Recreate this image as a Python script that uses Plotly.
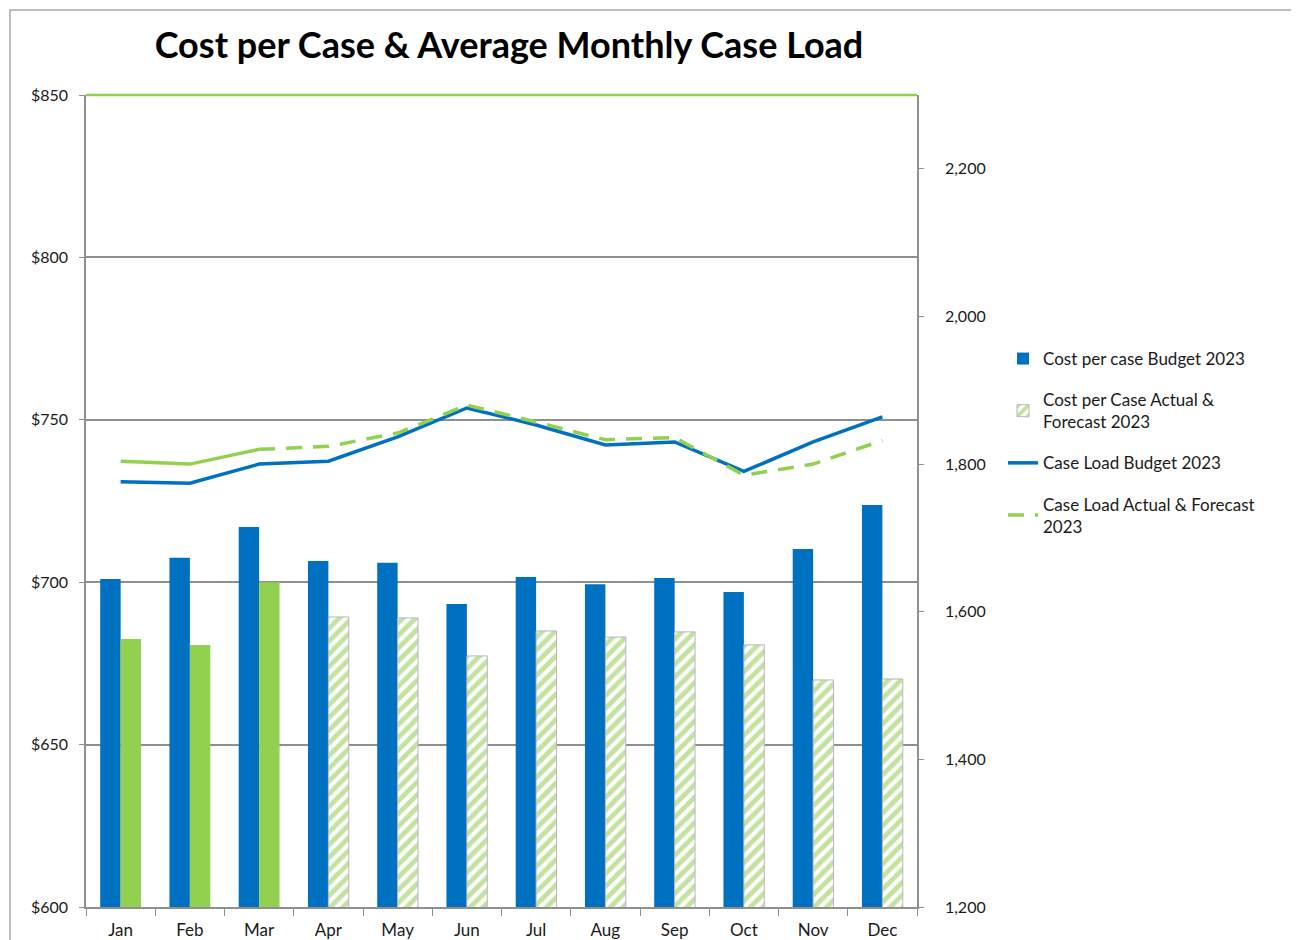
import plotly.graph_objects as go

months = ["Jan", "Feb", "Mar", "Apr", "May", "Jun", "Jul", "Aug", "Sep", "Oct", "Nov", "Dec"]
cost_budget = [701, 707.5, 717, 706.5, 706, 693.3, 701.6, 699.4, 701.3, 697, 710.2, 723.8]
cost_actual = [682.5, 680.7, 700, 689.3, 689, 677.3, 685, 683.1, 684.7, 680.7, 669.9, 670.2]
load_budget = [1776, 1774, 1800, 1804, 1837, 1876, 1853, 1826, 1830, 1790, 1830, 1864]
load_actual = [1804, 1800, 1820, 1824, 1842, 1880, 1857, 1833, 1836, 1785, 1800, 1832]
n_actual = 3  # Jan-Mar are actuals, remainder forecast

left_ticks = [600, 650, 700, 750, 800, 850]
right_ticks = [1200, 1400, 1600, 1800, 2000, 2200]

BLUE = "#0070C0"
GREEN = "#92D050"
GRAY = "#8f8f8f"
FONT = "Lato"

fig = go.Figure()

fig.add_trace(go.Bar(
    x=months, y=cost_budget, name="Cost per case Budget 2023",
    marker=dict(color=BLUE, line=dict(width=0)),
    offsetgroup="b", legendgroup="g1",
))
fig.add_trace(go.Bar(
    x=months[:n_actual], y=cost_actual[:n_actual], name="Cost per Case Actual",
    marker=dict(color=GREEN, line=dict(width=0)),
    offsetgroup="a", legendgroup="g2", showlegend=False,
))
fig.add_trace(go.Bar(
    x=months[n_actual:], y=cost_actual[n_actual:],
    name="Cost per Case Actual &<br>Forecast 2023",
    marker=dict(color=GREEN, line=dict(width=1, color="#b4b4cc"),
                pattern=dict(shape="/", fgcolor="#86c840", bgcolor="white",
                             fillmode="overlay", size=9, solidity=0.55)),
    offsetgroup="a", legendgroup="g2",
))
fig.add_trace(go.Scatter(
    x=months, y=load_budget, name="Case Load Budget 2023", mode="lines",
    line=dict(color=BLUE, width=3.5), yaxis="y2", legendgroup="g3",
))
fig.add_trace(go.Scatter(
    x=months[:n_actual], y=load_actual[:n_actual], name="Case Load Actual",
    mode="lines", line=dict(color=GREEN, width=3.5), yaxis="y2",
    legendgroup="g4", showlegend=False,
))
fig.add_trace(go.Scatter(
    x=months[n_actual - 1:], y=load_actual[n_actual - 1:],
    name="Case Load Actual & Forecast<br>2023", mode="lines",
    line=dict(color=GREEN, width=3.5, dash="16px,11px"), yaxis="y2", legendgroup="g4",
))

OFF = 8  # page body offset
W, H = 1291, 932
ml, mr, mt, mb = 86 - OFF, 382, 95 - OFF, 33
pw, ph = W - ml - mr, H - mt - mb

def px_x(px):
    return (px - OFF - ml) / pw

def px_y(py):
    return (H - mb - (py - OFF)) / ph

fig.update_layout(
    width=W, height=H,
    margin=dict(l=ml, r=mr, t=mt, b=mb, autoexpand=False),
    paper_bgcolor="white", plot_bgcolor="white",
    font=dict(family=FONT, size=16, color="#1a1a1a"),
    title=dict(text="<b>Cost per Case & Average Monthly Case Load</b>",
               x=(509 - OFF) / W, xanchor="center", xref="container",
               y=1 - (45 - OFF) / H, yanchor="middle", yref="container",
               font=dict(family=FONT, size=36, color="black")),
    barmode="group", bargap=0.41, bargroupgap=0,
    showlegend=True,
    legend=dict(x=px_x(1003), y=px_y(341), xanchor="left", yanchor="top",
                font=dict(family=FONT, size=17, color="#1a1a1a"),
                traceorder="grouped", tracegroupgap=16, bgcolor="rgba(0,0,0,0)"),
    xaxis=dict(showline=True, linecolor=GRAY, linewidth=1.5, ticks="outside",
               tickson="boundaries", ticklen=7, tickcolor=GRAY, showgrid=False,
               automargin=False, ticklabelstandoff=7,
               tickfont=dict(family=FONT, size=17)),
    yaxis=dict(range=[600, 850], tickvals=left_ticks,
               ticktext=["$" + str(v) for v in left_ticks],
               showgrid=True, gridcolor=GRAY, gridwidth=1.5,
               showline=True, linecolor=GRAY, linewidth=1.5,
               ticks="outside", ticklen=5, tickcolor=GRAY, zeroline=False,
               automargin=False,
               ticklabelstandoff=8, tickfont=dict(family=FONT, size=16)),
    yaxis2=dict(range=[1200, 2300], tickvals=right_ticks,
                ticktext=[f"{v:,}" for v in right_ticks],
                overlaying="y", side="right", showgrid=False, zeroline=False,
                showline=True, linecolor=GRAY, linewidth=1.5,
                ticks="outside", ticklen=5, tickcolor=GRAY, automargin=False,
                ticklabelstandoff=18, tickfont=dict(family=FONT, size=16)),
    shapes=[
        dict(type="line", xref="paper", yref="paper", x0=0, x1=1, y0=1, y1=1,
             line=dict(color=GREEN, width=2.5), layer="above"),
        dict(type="rect", xref="paper", yref="paper",
             x0=px_x(10), x1=px_x(1297), y0=px_y(960), y1=px_y(10),
             line=dict(color="#a6a6a6", width=1.5), layer="below"),
    ],
)

fig.write_html("out.html")
